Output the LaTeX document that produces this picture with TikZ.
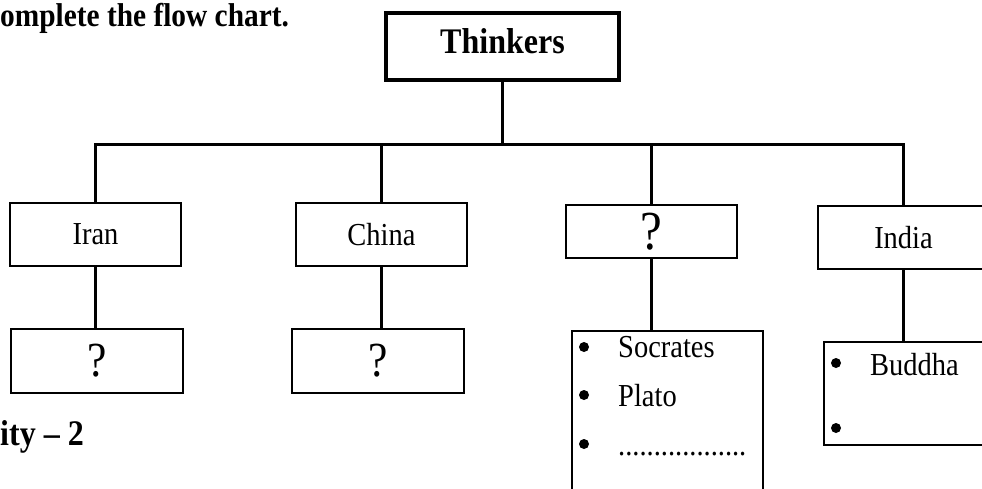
\documentclass[tikz,border=0pt]{standalone}
\usepackage{fontspec}
\setmainfont[FakeStretch=0.89]{Liberation Serif}
\usetikzlibrary{calc}

\tikzset{
  box/.style={draw, line width=2pt, inner sep=0pt, minimum width=171pt, minimum height=63pt, font=\fontsize{32}{38}\selectfont},
  qbox/.style={box, font=\fontsize{49}{56}\selectfont},
  listbox/.style={draw, line width=2pt, inner sep=0pt, anchor=north west, minimum width=191pt},
  link/.style={line width=3pt},
  item/.style={anchor=base west, inner sep=0pt, font=\fontsize{32}{38}\selectfont},
  dot/.style={circle, fill, inner sep=0pt, minimum size=10pt},
  heading/.style={anchor=base west, inner sep=0pt, font=\bfseries\fontsize{33}{38}\selectfont},
}

\begin{document}
\begin{tikzpicture}[x=1pt,y=-1pt]
\useasboundingbox (0,0) rectangle (982,488);
\clip (0,0) rectangle (982,488);

\node[heading] (title) at (0,26) {omplete the flow chart.};
\node[heading, font=\bfseries\fontsize{36}{40}\selectfont] (activity) at (0,445) {ity – 2};

\node[draw, line width=4pt, inner sep=0pt, minimum width=233pt, minimum height=67pt, text depth=11pt,
  font=\bfseries\fontsize{36}{42}\selectfont] (thinkers) at (502.5,46.5) {Thinkers};

\coordinate (bar) at (0,144);

\node[box] (iran) at (95.5,234.5) {Iran};
\node[box] (china) at (381.5,234.5) {China};
\node[box, minimum height=53pt, font=\fontsize{55}{62}\selectfont] (greece) at (651.5,231.5) {?};
\node[box] (india) at (903.5,237.5) {India};

\node[qbox, minimum width=172pt, minimum height=64pt] (iranQ) at (97,361) {?};
\node[qbox, minimum width=172pt, minimum height=64pt] (chinaQ) at (378,361) {?};
\node[listbox, minimum height=200pt] (greekList) at (571,330) {};
\node[listbox, minimum height=103pt] (indiaList) at (823,341) {};

% bullets and entries
\node[dot] (socratesDot) at ($(greekList.north west)+(13,17)$) {};
\node[dot] (platoDot) at ($(greekList.north west)+(13,65)$) {};
\node[dot] (blankDot) at ($(greekList.north west)+(13,114)$) {};
\node[item] (socrates) at ($(greekList.north west)+(47,27)$) {Socrates};
\node[item] (plato) at ($(greekList.north west)+(47,76)$) {Plato};
\node[item] (blank) at ($(greekList.north west)+(47,125)$) {..................};
\node[dot] (buddhaDot) at ($(indiaList.north west)+(13,22)$) {};
\node[dot] (otherDot) at ($(indiaList.north west)+(13,87)$) {};
\node[item] (buddha) at ($(indiaList.north west)+(47,34)$) {Buddha};

% tree lines
\draw[link] (thinkers.south) -- (thinkers.south |- bar);
\draw[link] (iran.north) -- (iran.north |- bar) -- (india.north |- bar) -- (india.north);
\draw[link] (china.north) -- (china.north |- bar);
\draw[link] (greece.north) -- (greece.north |- bar);

\draw[link] (iran.south) -- (iran.south |- iranQ.north);
\draw[link] (china.south) -- (china.south |- chinaQ.north);
\draw[link] (greece.south) -- (greece.south |- greekList.north);
\draw[link] (india.south) -- (india.south |- indiaList.north);
\end{tikzpicture}
\end{document}
